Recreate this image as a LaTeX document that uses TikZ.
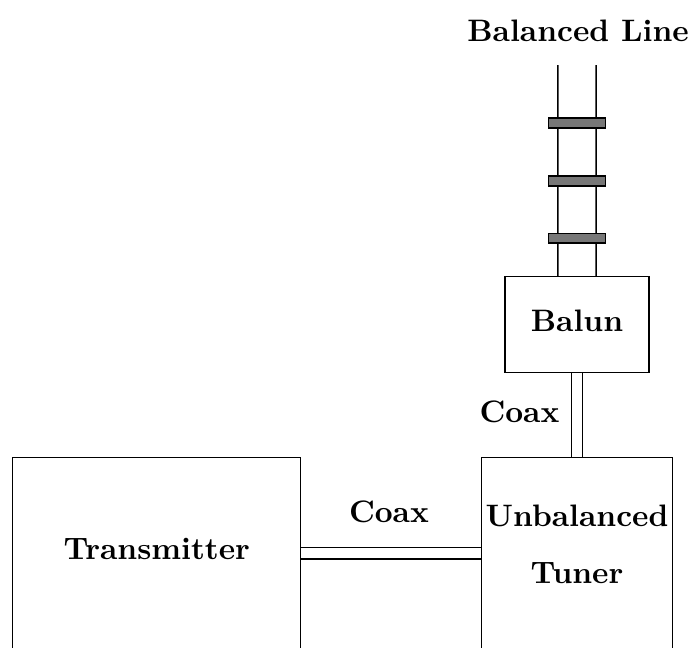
\documentclass[tikz,border=0pt]{standalone}
\usetikzlibrary{calc}
\definecolor{rungcol}{RGB}{119,119,119}
\begin{document}
\begin{tikzpicture}[x=0.3333pt,y=-0.3333pt,
  box/.style={draw,line width=0.5pt,inner sep=0pt,outer sep=0pt,anchor=north west},
  lbl/.style={font=\fontsize{10.35}{12.4}\selectfont\bfseries,inner sep=0pt},
  wire/.style={line width=0.5pt},
  coax/.style={line width=0.5pt,double,double distance=3.2pt},
  rung/.style={draw,line width=0.5pt,fill=rungcol,minimum width=19.1pt,minimum height=3.2pt,inner sep=0pt,outer sep=0pt}]
\useasboundingbox (0,0) rectangle (691,647);
\clip (0,0) rectangle (691,647);
% boxes
\node[box,minimum width=96pt,minimum height=120pt] (tx) at (12.7,457.3) {};
\node[box,minimum width=63.7pt,minimum height=120pt] (tun) at (481.3,457.3) {};
\node[box,minimum width=48pt,minimum height=32pt] (balun) at (505,276.7) {};
% texts
\node[lbl] (txt) at (156.7,549) {Transmitter};
\node[lbl,align=center] (tunt) at (577,544.5) {Unbalanced\\[6.6pt]Tuner};
\node[lbl] (balunt) at (577,321) {Balun};
\node[lbl] (coaxh) at (389,512) {Coax};
\node[lbl] (coaxv) at (519.5,411.7) {Coax};
\node[lbl] (bline) at (578,31) {Balanced Line};
% coax connectors
\coordinate (hc) at (0,553.2);
\draw[coax] (tx.east |- hc) -- (tun.west |- hc);
\draw[coax] (balun.south) -- (balun.south |- tun.north);
% ladder line
\coordinate (ltop) at (577,65);
\draw[wire] ($(balun.north)+(-19.2,0)$) -- ($(ltop)+(-19.2,0)$);
\draw[wire] ($(balun.north)+(19.2,0)$) -- ($(ltop)+(19.2,0)$);
\node[rung] (r1) at (577,123) {};
\node[rung] (r2) at (577,181) {};
\node[rung] (r3) at (577,238.3) {};
\end{tikzpicture}
\end{document}
